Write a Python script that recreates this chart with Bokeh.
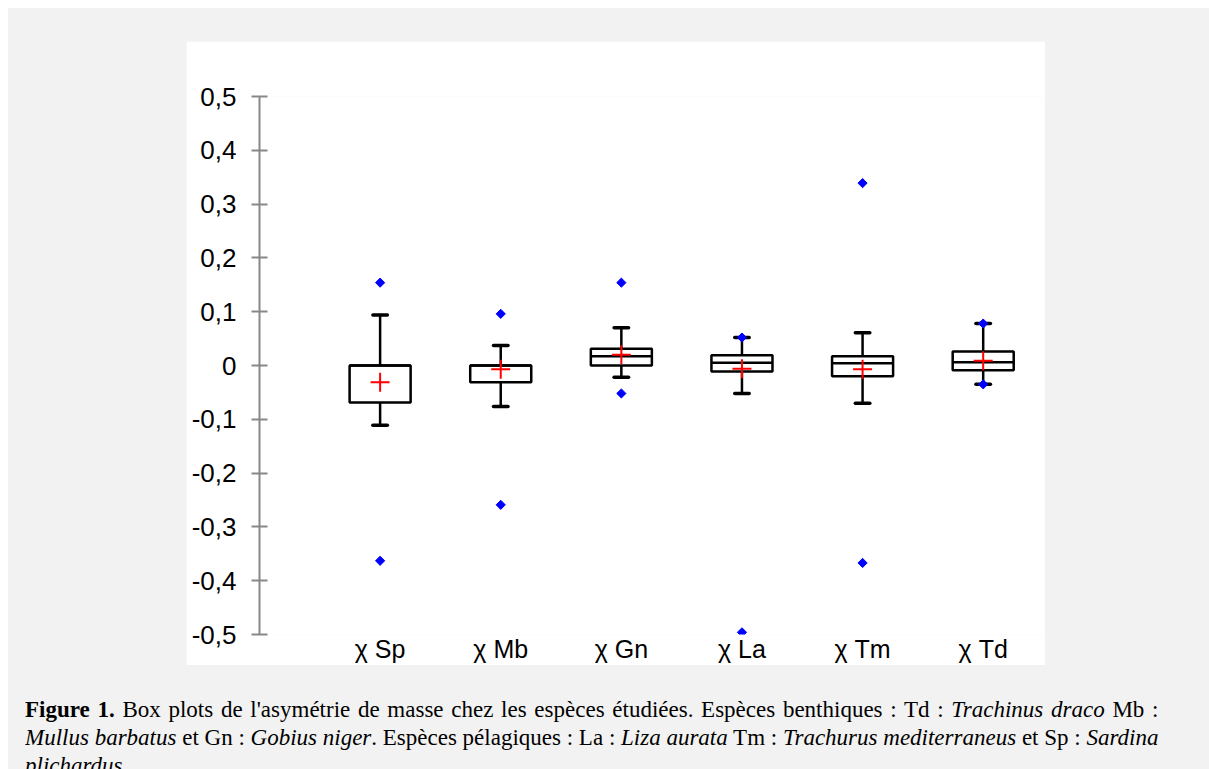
from bokeh.plotting import figure
from bokeh.models import FixedTicker, Div, Range1d, ColumnDataSource
from bokeh.layouts import column
from bokeh.embed import file_html
from bokeh.resources import INLINE
import numpy as np

# ---- data ----
categories = ["χ Sp", "χ Mb", "χ Gn", "χ La", "χ Tm", "χ Td"]
q1 = [-0.069, -0.031, 0.000, -0.011, -0.020, -0.009]
median = [0.000, 0.000, 0.017, 0.005, 0.004, 0.006]
q3 = [0.000, 0.000, 0.031, 0.019, 0.017, 0.026]
whisker_low = [-0.111, -0.076, -0.022, -0.052, -0.070, -0.035]
whisker_high = [0.094, 0.037, 0.070, 0.052, 0.061, 0.078]
mean = [-0.031, -0.007, 0.020, -0.006, -0.007, 0.009]
outlier_low = [-0.363, -0.259, -0.052, -0.496, -0.367, -0.035]
outlier_high = [0.154, 0.096, 0.154, 0.052, 0.339, 0.078]
y_ticks = [0.5, 0.4, 0.3, 0.2, 0.1, 0.0, -0.1, -0.2, -0.3, -0.4, -0.5]
y_tick_labels = ["0,5", "0,4", "0,3", "0,2", "0,1", "0", "-0,1", "-0,2", "-0,3", "-0,4", "-0,5"]

pos = list(range(1, len(categories) + 1))
box_half = 0.253
cap_half = 0.06

src = ColumnDataSource(dict(
    x=pos,
    left=[x - box_half for x in pos],
    right=[x + box_half for x in pos],
    capl=[x - cap_half for x in pos],
    capr=[x + cap_half for x in pos],
    q1=q1, q3=q3, med=median, wl=whisker_low, wh=whisker_high, mean=mean,
))
out_src = ColumnDataSource(dict(
    x=pos + pos,
    y=outlier_low + outlier_high,
))

p = figure(width=859, height=624, output_backend="svg", toolbar_location=None,
           x_range=Range1d(0, 6.5), y_range=Range1d(-0.5, 0.5),
           min_border_left=73, min_border_right=2, min_border_top=55, min_border_bottom=29,
           margin=(33, 0, 0, 178))
p.border_fill_color = "white"
p.background_fill_color = "white"
p.outline_line_color = None
p.grid.visible = False

# whiskers
p.segment(x0="x", x1="x", y0="q3", y1="wh", source=src, line_color="black", line_width=2.5)
p.segment(x0="x", x1="x", y0="q1", y1="wl", source=src, line_color="black", line_width=2.5)
p.segment(x0="capl", x1="capr", y0="wh", y1="wh", source=src, line_color="black", line_width=3.5, line_cap="round")
p.segment(x0="capl", x1="capr", y0="wl", y1="wl", source=src, line_color="black", line_width=3.5, line_cap="round")
# boxes
p.quad(left="left", right="right", bottom="q1", top="q3", source=src,
       fill_color="white", line_color="black", line_width=2.5)
p.segment(x0="left", x1="right", y0="med", y1="med", source=src, line_color="black", line_width=2.5)
# means
p.scatter(x="x", y="mean", source=src, marker="cross", size=19, line_color="red", line_width=2)
# outliers
p.scatter(x="x", y="y", source=out_src, marker="square", size=6.5, angle=np.pi / 4,
          fill_color="#0000ff", line_color="#0000ff")

# y axis
ya = p.yaxis[0]
ya.ticker = FixedTicker(ticks=y_ticks)
ya.major_label_overrides = {t: l for t, l in zip(y_ticks, y_tick_labels)}
ya.axis_line_color = "#888888"
ya.axis_line_width = 2
ya.major_tick_line_color = "#888888"
ya.major_tick_line_width = 2
ya.major_tick_in = 8
ya.major_tick_out = 8
ya.minor_tick_line_color = None
ya.major_label_standoff = 15
ya.major_label_text_font = "Liberation Sans"
ya.major_label_text_font_size = "26px"
ya.major_label_text_color = "black"

# x axis (category labels)
xa = p.xaxis[0]
xa.ticker = FixedTicker(ticks=pos)
xa.major_label_overrides = {x: c for x, c in zip(pos, categories)}
xa.axis_line_color = None
xa.major_tick_line_color = None
xa.minor_tick_line_color = None
xa.major_tick_in = 0
xa.major_tick_out = 0
xa.major_label_standoff = 0
xa.major_label_text_font = "Liberation Sans"
xa.major_label_text_font_size = "25px"
xa.major_label_text_color = "black"

caption_lines = [
    "<b>Figure 1.</b> Box plots de l'asymétrie de masse chez les espèces étudiées. "
    "Espèces benthiques : Td : <i>Trachinus draco</i> Mb :",
    "<i>Mullus barbatus</i> et Gn : <i>Gobius niger</i>. Espèces pélagiques : La : "
    "<i>Liza aurata</i> Tm : <i>Trachurus mediterraneus</i> et Sp : <i>Sardina</i>",
    "<i>plichardus</i>",
]
caption_html = "".join(
    '<div style="text-align: justify; text-align-last: %s">%s</div>'
    % ("justify" if i < len(caption_lines) - 1 else "left", line)
    for i, line in enumerate(caption_lines)
)

cap = Div(text=caption_html, width=1181, height=73, margin=(31, 0, 0, 17),
          styles={"overflow": "hidden", "font-family": "Liberation Serif", "font-size": "23px",
                  "line-height": "28px", "color": "black"})

layout = column(p, cap, width=1201, height=761, margin=(8, 0, 0, 8),
                styles={"background-color": "#f2f2f2", "overflow": "hidden"})

open("out.html", "w").write(file_html(layout, INLINE))
